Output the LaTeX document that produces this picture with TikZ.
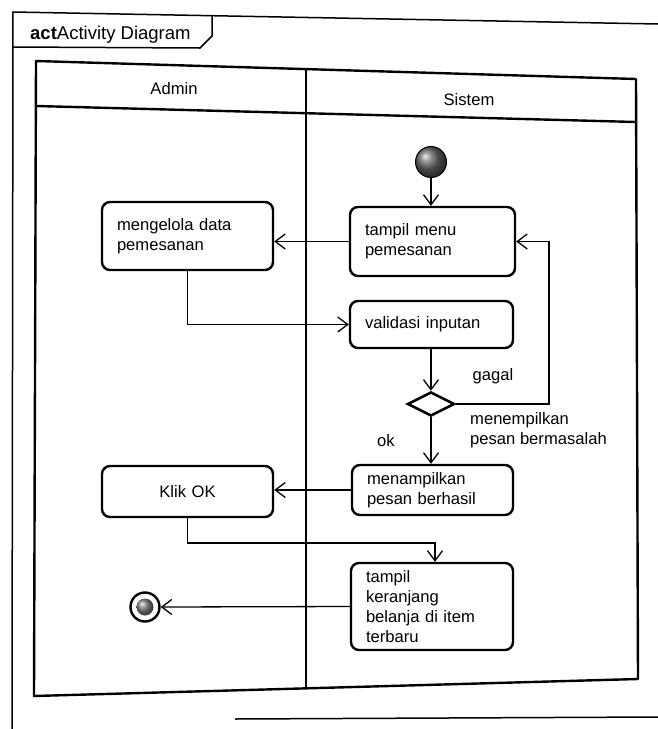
\documentclass[tikz,border=0pt]{standalone}
\usepackage{fontspec}
\setmainfont{Liberation Sans}
\usetikzlibrary{arrows.meta,shapes.geometric,calc}
\begin{document}
\begin{tikzpicture}[x=1pt,y=-1pt,
  every node/.style={font=\fontsize{16.6}{20}\selectfont},
  actbox/.style={draw, line width=2.4pt, rounded corners=8pt, fill=white,
    inner xsep=15pt, inner ysep=0pt, align=left},
  arr/.style={line width=1.3pt, -{Straight Barb[length=10pt,width=15pt]}},
  lane/.style={line width=2.4pt, line cap=round, line join=round},
  frameline/.style={line width=1.5pt}]
\useasboundingbox (0,0) rectangle (658,729);

% outer diagram frame with its name tab
\coordinate (f1) at (13,12);
\coordinate (f2) at (658,24);
\coordinate (f3) at (12,729);
\draw[frameline] (f2) -- (f1) -- (f3);
\draw[frameline] (235,719) -- (658,717);
\coordinate (t1) at (13,47);
\coordinate (t2) at (200,48);
\coordinate (t3) at (212,36);
\coordinate (t4) at (212,16);
\draw[frameline] (t1) -- (t2) -- (t3) -- (t4);
\node[anchor=base west, inner sep=0pt, font=\fontsize{18.5}{20}\selectfont] (ttl) at (30,39)
  {\textbf{act}Activity Diagram};

% swimlanes
\coordinate (p1) at (36,61);
\coordinate (p2) at (636,79);
\coordinate (p3) at (638,679);
\coordinate (p4) at (34,696);
\coordinate (h1) at (36,106);
\coordinate (h2) at (636,122);
\coordinate (d1) at (306,69);
\coordinate (d2) at (306,688);
\draw[lane] (p1) -- (p2) -- (p3) -- (p4) -- cycle;
\draw[lane] (h1) -- (h2);
\draw[lane] (d1) -- (d2);
\node (la) at (174,89) {Admin};
\node (ls) at (469,100) {Sistem};

% actions
\node[actbox, text width=141pt, minimum height=68pt] (mg) at (187.5,236) {mengelola data\\pemesanan};
\node[actbox, text width=135pt, minimum height=69pt] (tm) at (432.5,241.5) {tampil menu\\pemesanan};
\node[actbox, text width=133pt, minimum height=47pt] (val) at (431.5,324.5) {validasi inputan};
\node[actbox, text width=131pt, minimum height=50pt] (mp) at (432.5,490) {menampilkan\\pesan berhasil};
\node[actbox, text width=141pt, minimum height=51pt, align=center] (ok) at (187.5,491.5) {Klik OK};
\node[actbox, text width=132pt, minimum height=87pt] (tk) at (432,606.5) {tampil\\keranjang\\belanja di item\\terbaru};

% decision, initial and final nodes
\node[diamond, draw, line width=2.6pt, fill=white, minimum width=47pt, minimum height=24pt,
  inner sep=0pt, aspect=2] (dec) at (431,404) {};
\node[circle, draw=black, line width=1pt, minimum size=31pt, inner sep=0pt,
  shading=ball, ball color=gray!80!black] (st) at (431,162) {};
\node[circle, draw, line width=2.4pt, fill=white, minimum size=29pt, inner sep=0pt] (en) at (145,607) {};
\node[circle, minimum size=17pt, inner sep=0pt, shading=ball, ball color=gray] (enc) at (en) {};

% flows
\coordinate (loop) at (549,404);
\coordinate (jn) at (435,543);
\draw[arr] (st.south) -- (st.south |- tm.north);
\draw[arr] (tm.west) -- (tm.west -| mg.east);
\draw[arr] (mg.south) |- (val.west);
\draw[arr] (val.south -| dec.north) -- (dec.north);
\draw[arr] (dec.east) -- (loop) |- (tm.east);
\draw[arr] (dec.south) -- (dec.south |- mp.north);
\draw[arr] (mp.west) -- (mp.west -| ok.east);
\draw[arr] (ok.south) |- (jn) -- (jn |- tk.north);
\draw[arr] (tk.west) -- (en.east);

% guard labels
\node (lg) at (493,376) {gagal};
\node (lok) at (386,441) {ok};
\node[anchor=west, align=left, inner sep=0pt] (lmb) at (470,430) {menempilkan\\pesan bermasalah};
\end{tikzpicture}
\end{document}
